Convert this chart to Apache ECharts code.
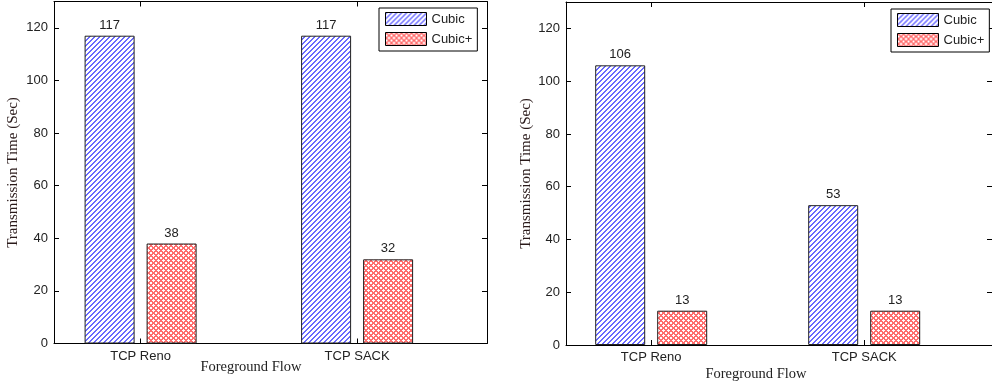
<!DOCTYPE html>
<html>
<head>
<meta charset="utf-8">
<script src="https://cdn.jsdelivr.net/npm/echarts@6/dist/echarts.min.js"></script>
<style>
  html, body { margin: 0; padding: 0; background: #fff; }
  #chart { width: 992px; height: 388px; }
</style>
</head>
<body>
<div id="chart"></div>
<script>
// Transmission time of the background flow, per foreground TCP variant
const categories = ['TCP Reno', 'TCP SACK'];
const seriesNames = ['Cubic', 'Cubic+'];
const leftCubic = [117, 117];
const leftCubicPlus = [38, 32];
const rightCubic = [106, 53];
const rightCubicPlus = [13, 13];
const yTicks = [0, 20, 40, 60, 80, 100, 120];
const categoryPositions = [1, 2];

const SANS = 'Liberation Sans, Arial, sans-serif';
const SERIF = 'Liberation Serif, Times New Roman, serif';

// Pixel-precise fill patterns for the two bar styles
function makePattern(period, test, rgb) {
  const c = document.createElement('canvas');
  c.width = period; c.height = period;
  const ctx = c.getContext('2d');
  const img = ctx.createImageData(period, period);
  for (let y = 0; y < period; y++) {
    for (let x = 0; x < period; x++) {
      const i = (y * period + x) * 4;
      const on = test(x, y);
      img.data[i] = on ? rgb[0] : 255;
      img.data[i + 1] = on ? rgb[1] : 255;
      img.data[i + 2] = on ? rgb[2] : 255;
      img.data[i + 3] = 255;
    }
  }
  ctx.putImageData(img, 0, 0);
  return { image: c, repeat: 'repeat' };
}
// rising diagonal hatch
const hatchBlue = makePattern(5, (x, y) => (x + y) % 5 < 2, [105, 105, 255]);
// diagonal cross-hatch
const crossRed = makePattern(5, (x, y) => ((x + y) % 5 < 2) || ((x - y + 50) % 5 < 2), [255, 110, 110]);

const pair = vals => vals.map((v, i) => [categoryPositions[i], v]);

function xAxes(gridIndex) {
  const base = {
    type: 'value', gridIndex: gridIndex, min: 0.6, max: 2.6,
    axisLine: { show: true, onZero: false, lineStyle: { color: '#000', width: 1 } },
    axisTick: { show: true, inside: true, length: 5, customValues: categoryPositions, lineStyle: { color: '#000' } },
    splitLine: { show: false }
  };
  return [
    Object.assign({}, base, {
      position: 'bottom',
      axisLabel: {
        customValues: categoryPositions,
        formatter: v => categories[Math.round(v) - 1],
        color: '#222', fontFamily: SANS, fontSize: 13, margin: 6
      }
    }),
    Object.assign({}, base, { position: 'top', axisLabel: { show: false } })
  ];
}

function yAxes(gridIndex, nameGap) {
  const base = {
    type: 'value', gridIndex: gridIndex, min: 0, max: 130,
    axisLine: { show: true, onZero: false, lineStyle: { color: '#000', width: 1 } },
    axisTick: { show: true, inside: true, length: 5, customValues: yTicks, lineStyle: { color: '#000' } },
    splitLine: { show: false }
  };
  return [
    Object.assign({}, base, {
      position: 'left',
      name: 'Transmission Time (Sec)',
      nameLocation: 'middle',
      nameGap: nameGap,
      nameTextStyle: { fontFamily: SERIF, fontSize: 15, color: '#2a1a1a' },
      axisLabel: { customValues: yTicks, color: '#222', fontFamily: SANS, fontSize: 13, margin: 6 }
    }),
    Object.assign({}, base, { position: 'right', axisLabel: { show: false } })
  ];
}

function barSeries(name, data, fill, gridIndex) {
  return {
    type: 'bar', name: name,
    xAxisIndex: gridIndex * 2, yAxisIndex: gridIndex * 2,
    data: pair(data),
    barWidth: 50, barGap: '24%',
    itemStyle: { color: fill, borderColor: '#222', borderWidth: 1, borderRadius: 0 },
    label: {
      show: true, position: 'top', distance: 4,
      formatter: p => p.value[1],
      color: '#222', fontFamily: SANS, fontSize: 13
    },
    emphasis: { disabled: true },
    animation: false
  };
}

function legendAt(left, top) {
  return {
    left: left, top: top, orient: 'vertical',
    icon: 'rect',
    data: seriesNames.map(n => ({ name: n, icon: 'rect' })),
    itemWidth: 41, itemHeight: 13, itemGap: 6,
    itemStyle: { borderColor: '#000', borderWidth: 1 },
    padding: [4, 5, 5, 6],
    borderColor: '#000', borderWidth: 1, backgroundColor: '#fff',
    textStyle: { fontFamily: SANS, fontSize: 13, color: '#222' },
    selectedMode: false
  };
}

const chart = echarts.init(document.getElementById('chart'), null, { renderer: 'canvas' });
chart.setOption({
  animation: false,
  grid: [
    { left: 54, top: 1.5, width: 433, height: 342 },
    { left: 566, top: 2, width: 432, height: 343 }
  ],
  xAxis: xAxes(0).concat(xAxes(1)),
  yAxis: yAxes(0, 33).concat(yAxes(1, 32)),
  legend: [legendAt(379, 8), legendAt(891, 9)],
  graphic: [
    { type: 'text', x: 251, y: 367, style: { text: 'Foreground Flow', font: '14.5px ' + SERIF, fill: '#222', textAlign: 'center', textVerticalAlign: 'middle' } },
    { type: 'text', x: 756, y: 374, style: { text: 'Foreground Flow', font: '14.5px ' + SERIF, fill: '#222', textAlign: 'center', textVerticalAlign: 'middle' } }
  ],
  series: [
    barSeries('Cubic', leftCubic, hatchBlue, 0),
    barSeries('Cubic+', leftCubicPlus, crossRed, 0),
    barSeries('Cubic', rightCubic, hatchBlue, 1),
    barSeries('Cubic+', rightCubicPlus, crossRed, 1)
  ]
});
</script>
</body>
</html>
